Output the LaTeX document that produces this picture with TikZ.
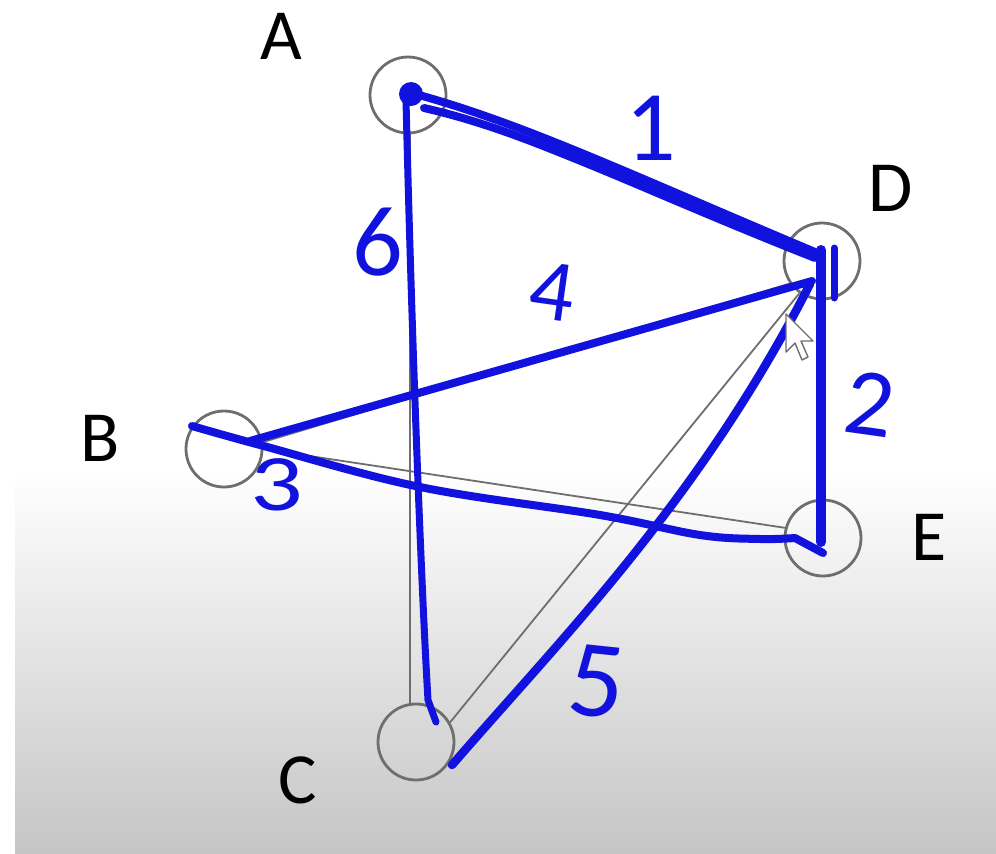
\documentclass[tikz,border=0pt]{standalone}
\usepackage{fontspec}
\setmainfont{Carlito}
\definecolor{pen}{RGB}{18,18,222}
\definecolor{ring}{RGB}{110,110,110}
\definecolor{bottomgray}{RGB}{197,197,197}
\begin{document}
\begin{tikzpicture}[x=1pt,y=-1pt,
  vertex/.style={circle,draw=ring,line width=2.8pt,minimum size=76pt,inner sep=0pt},
  vlabel/.style={font=\fontsize{72}{72}\selectfont,text=black,inner sep=0pt},
  thin/.style={draw=ring,line width=1.8pt},
  ink/.style={draw=pen,line width=8pt,line cap=round,line join=round},
  num/.style={text=pen,inner sep=0pt}]
\useasboundingbox (0,0) rectangle (996,854);
\fill[white] (0,0) rectangle (996,854);
\shade[top color=white,bottom color=bottomgray] (15,470) rectangle (996,854);

% vertices
\node[vertex] (A) at (408,95) {};
\node[vertex] (D) at (822,261) {};
\node[vertex] (B) at (224,449) {};
\node[vertex] (E) at (823,538) {};
\node[vertex] (C) at (416,742) {};

% vertex labels
\node[vlabel] (lA) at (281,36) {A};
\node[vlabel] (lD) at (891,188) {D};
\node[vlabel] (lB) at (100,438) {B};
\node[vlabel] (lE) at (929,537) {E};
\node[vlabel] (lC) at (298,780) {C};

% original thin edges
\draw[thin] ([xshift=2pt]A.south) -- ([xshift=-6pt]C.north);
\draw[thin] (A) -- (D);
\draw[thin] (B.10) -- (D.215);
\draw[thin] (B.east) -- (E.165);
\draw[thin] (C.30) -- (D.235);
\draw[thin] (D) -- (E);

% blue ink: edge 1 (A-D), doubled stroke
\coordinate (a1) at (408,92);
\coordinate (a2) at (424,108);
\coordinate (d1) at (815,252);
\coordinate (d2) at (815,258);
\draw[ink,line width=8pt] (a1) .. controls (520,122) and (620,170) .. (d1);
\draw[ink,line width=8pt] (a2) .. controls (530,132) and (630,185) .. (d2);
\fill[pen] (411,94) circle (12pt);

% edge 2 (D-E)
\coordinate (d3) at (821,250);
\coordinate (e1) at (821,542);
\draw[ink,line width=10pt] (d3) -- (e1);
\coordinate (d4) at (834,248);
\coordinate (d5) at (834,298);
\draw[ink,line width=7pt] (d4) -- (d5);

% edge 3 (B-E)
\coordinate (b1) at (192,426);
\coordinate (e2) at (823,553);
\draw[ink] plot[smooth,tension=0.6] coordinates
  {(b1) (260,445) (420,487) (600,515) (700,535) (760,539) (795,538)} -- (e2);

% edge 4 (B-D)
\coordinate (b2) at (250,441);
\coordinate (d6) at (812,281);
\draw[ink] (b2) -- (d6);

% edge 5 (C-D)
\coordinate (c1) at (452,765);
\coordinate (d7) at (810,284);
\draw[ink,line width=8.5pt] (c1) .. controls (560,640) and (700,500) .. (d7);

% edge 6 (A-C)
\coordinate (a3) at (406,100);
\coordinate (c2) at (436,722);
\draw[ink,line width=7pt] (a3) .. controls (412,350) and (422,600) .. (428,700) -- (c2);

% weights
\node[num,font=\fontsize{100}{100}\selectfont] (w1) at (651,128) {1};
\node[num,font=\fontsize{100}{100}\selectfont] (w6) at (378,242) {6};
\node[num,font=\fontsize{88}{88}\selectfont,rotate=-8] (w4) at (553,292) {4};
\node[num,font=\fontsize{96}{96}\selectfont,rotate=-8] (w2) at (870,404) {2};
\node[num,font=\fontsize{80}{80}\selectfont,xscale=1.3] (w3) at (277,485) {3};
\node[num,font=\fontsize{110}{110}\selectfont,rotate=-6] (w5) at (597,682) {5};

% mouse cursor
\draw[draw=ring,fill=white,line width=1.4pt,line join=round]
  (786,314) -- (786,352) -- (795,343) -- (802,360) -- (808,357) -- (801,341) -- (813,341) -- cycle;
\end{tikzpicture}
\end{document}
